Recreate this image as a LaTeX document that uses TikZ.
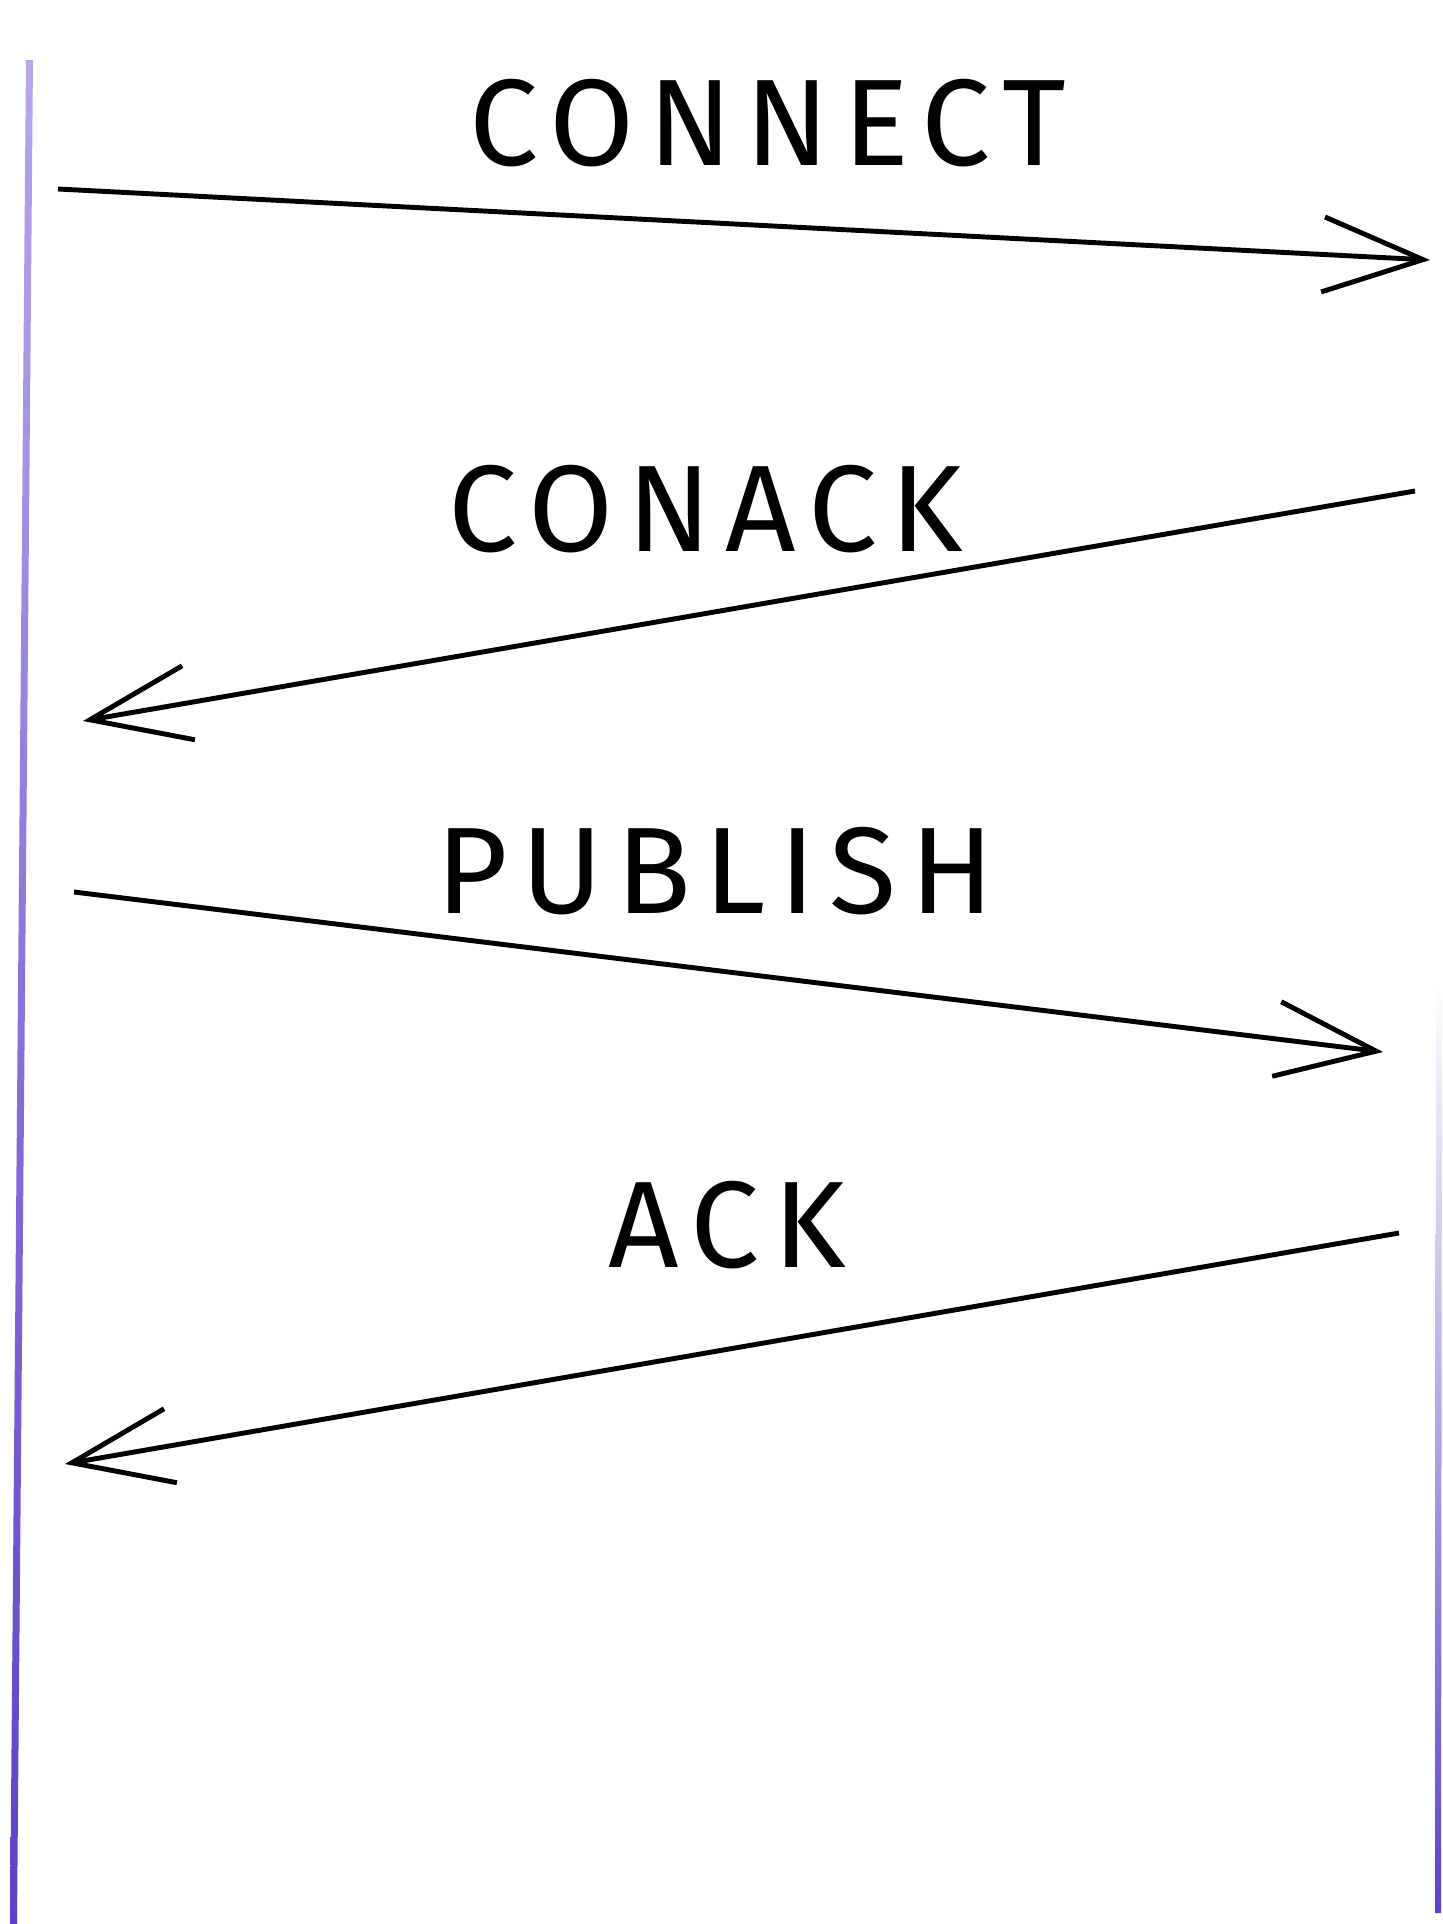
\documentclass[tikz,border=0pt]{standalone}
\usepackage{fontspec}
\newfontfamily\handfont[LetterSpace=11]{Fira Sans}
\usetikzlibrary{arrows.meta}
\definecolor{lifetop}{HTML}{B8A8EA}
\definecolor{lifebot}{HTML}{5E3FC8}
\begin{document}
\begin{tikzpicture}[x=0.01cm,y=-0.01cm,
	msg/.style={line width=1.4pt,black,-{Straight Barb[length=1cm,width=0.75cm,line width=1.4pt]}},
	lbl/.style={font=\handfont\fontsize{35}{40}\selectfont,inner sep=0pt}]
	\useasboundingbox (0,0) rectangle (1442,1924);
	% lifelines
	\shade[top color=lifetop,bottom color=lifebot] (26,60) -- (33,60) -- (17,1924) -- (10,1924) -- cycle;
	\shade[top color=white,bottom color=lifebot] (1436,985) -- (1442,985) -- (1441,1913) -- (1435,1913) -- cycle;
	% message ends
	\coordinate (c1) at (58,189);  \coordinate (s1) at (1430,260);
	\coordinate (s2) at (1415,491); \coordinate (c2) at (83,721);
	\coordinate (c3) at (74,892);  \coordinate (s3) at (1383,1052);
	\coordinate (s4) at (1399,1233); \coordinate (c4) at (65,1464);
	\draw[msg] (c1) -- (s1);
	\draw[msg] (s2) -- (c2);
	\draw[msg] (c3) -- (s3);
	\draw[msg] (s4) -- (c4);
	% labels
	\node[lbl] (connect) at (768,123) {CONNECT};
	\node[lbl] (conack) at (706,509) {CONACK};
	\node[lbl] (publish) at (715,871) {PUBLISH};
	\node[lbl] (ack) at (727,1225) {ACK};
\end{tikzpicture}
\end{document}
